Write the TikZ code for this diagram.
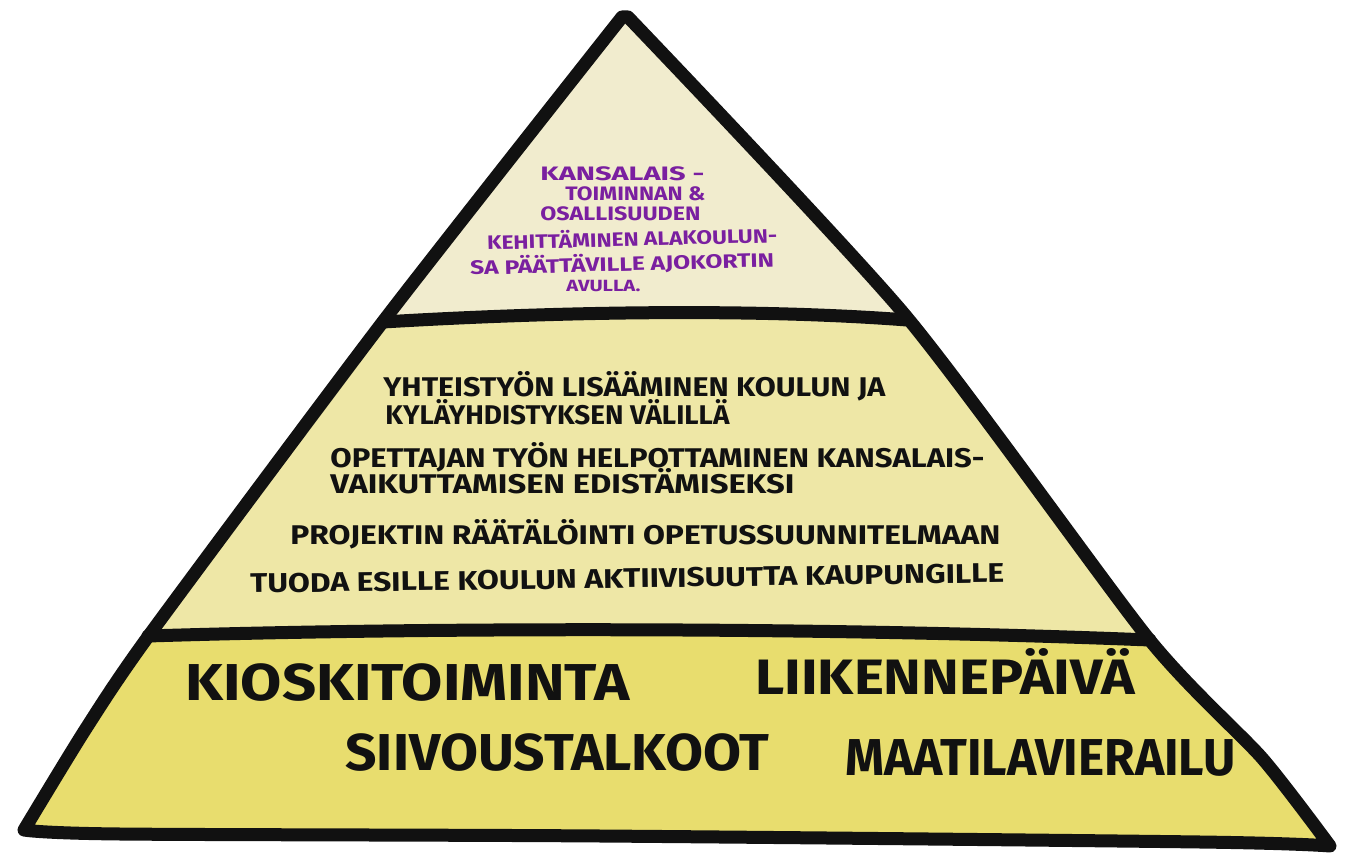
\documentclass[tikz,border=0pt]{standalone}
\usepackage{fontspec}
\setmainfont{Fira Sans}
\usepackage{graphicx}
\definecolor{topfill}{RGB}{241,236,206}
\definecolor{midfill}{RGB}{238,231,166}
\definecolor{botfill}{RGB}{232,221,110}
\definecolor{ink}{RGB}{17,17,17}
\definecolor{violet}{RGB}{122,31,160}
% width (pt), height of an A-umlaut line (pt), text
\newcommand{\fitw}[3]{\resizebox{#1pt}{#2pt}{\vphantom{Ä}#3}}
\tikzset{
  lbl/.style={anchor=base west, inner sep=0pt, font=\bfseries, text=ink},
  plbl/.style={lbl, text=violet},
  edge/.style={draw=ink, line width=6.5pt, line join=round, line cap=round}
}
\begin{document}
\begin{tikzpicture}[x=0.5pt,y=-0.5pt]
\useasboundingbox (0,0) rectangle (1346,856);
\def\outline{(24,830) -- plot[smooth, tension=0.4] coordinates {(24,830) (85,730) (150,634) (385,319) (622,17)}
  -- plot[smooth, tension=0.4] coordinates {(628,17) (905,315) (1148,638) (1262,758) (1330,846)}
  -- plot[smooth] coordinates {(1330,846) (1200,842) (600,836) (120,834) (24,830)} -- cycle}
\begin{scope}
  \clip \outline;
  \fill[botfill] (0,0) rectangle (1346,856);
  \fill[midfill] (0,0) -- (1346,0) -- (1346,640) -- (1150,640)
     .. controls (800,626) and (400,628) .. (148,636) -- (0,636) -- cycle;
  \fill[topfill] (0,0) -- (1346,0) -- (1346,320) -- (907,320)
     .. controls (750,308) and (550,312) .. (383,322) -- (0,322) -- cycle;
\end{scope}
\draw[edge] \outline;
\draw[edge] (383,322) .. controls (550,312) and (750,308) .. (907,320);
\draw[edge] (148,636) .. controls (400,628) and (800,626) .. (1150,640);
% top tier
\node[plbl] (t1) at (540,181) {\fitw{82}{9}{KANSALAIS -}};
\node[plbl] (t2) at (565,201) {\fitw{70}{9}{TOIMINNAN \&}};
\node[plbl] (t3) at (540,221) {\fitw{80}{9}{OSALLISUUDEN}};
\node[plbl, rotate=1.5] (t4) at (487,250) {\fitw{145}{9}{KEHITTÄMINEN ALAKOULUN-}};
\node[plbl, rotate=1.5] (t5) at (470,275) {\fitw{152}{9}{SA PÄÄTTÄVILLE AJOKORTIN}};
\node[plbl] (t6) at (566,292) {\fitw{37}{7.5}{AVULLA.}};
% middle tier
\node[lbl] (m1) at (383,396) {\fitw{251}{12.5}{YHTEISTYÖN LISÄÄMINEN KOULUN JA}};
\node[lbl] (m2) at (385,424) {\fitw{172}{12.5}{KYLÄYHDISTYKSEN VÄLILLÄ}};
\node[lbl] (m3) at (330,467) {\fitw{327}{12.5}{OPETTAJAN TYÖN HELPOTTAMINEN KANSALAIS-}};
\node[lbl] (m4) at (330,493) {\fitw{232}{12.5}{VAIKUTTAMISEN EDISTÄMISEKSI}};
\node[lbl] (m5) at (290,544) {\fitw{355}{12.5}{PROJEKTIN RÄÄTÄLÖINTI OPETUSSUUNNITELMAAN}};
\node[lbl, rotate=0.8] (m6) at (250,593) {\fitw{377}{12.5}{TUODA ESILLE KOULUN AKTIIVISUUTTA KAUPUNGILLE}};
% bottom tier
\node[lbl] (b1) at (185,700) {\fitw{222}{24}{KIOSKITOIMINTA}};
\node[lbl] (b2) at (755,694) {\fitw{190}{23}{LIIKENNEPÄIVÄ}};
\node[lbl] (b3) at (345,770) {\fitw{212}{24}{SIIVOUSTALKOOT}};
\node[lbl] (b4) at (845,775) {\fitw{195}{24}{MAATILAVIERAILU}};
\end{tikzpicture}
\end{document}
